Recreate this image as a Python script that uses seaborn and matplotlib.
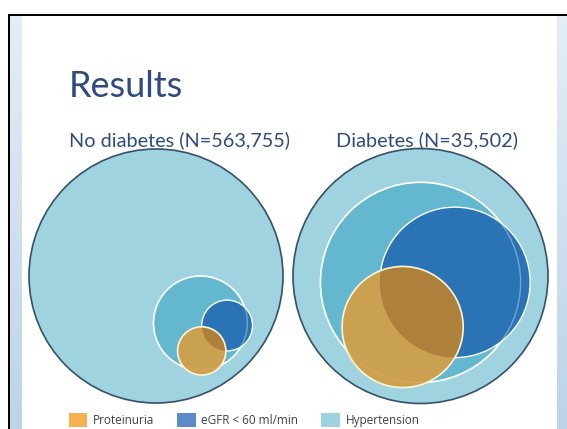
import numpy as np
import matplotlib
matplotlib.use("Agg")
import matplotlib.pyplot as plt
from matplotlib.patches import Circle, Rectangle, Patch
import seaborn as sns

sns.set_theme(style="white")
plt.rcParams['font.family'] = ['Lato', 'DejaVu Sans']

# --- data ---------------------------------------------------------------
title = "Results"
panel_titles = ["No diabetes (N=563,755)", "Diabetes (N=35,502)"]
set_labels = ["Proteinuria", "eGFR < 60 ml/min", "Hypertension"]

# circles relative to the whole cohort circle (centre 0,0, radius 1)
# order: proteinuria, eGFR, hypertension
no_dm_x = [0.36, 0.56, 0.35]
no_dm_y = [-0.59, -0.39, -0.37]
no_dm_r = [0.19, 0.20, 0.37]

dm_x = [-0.14, 0.27, 0.00]
dm_y = [-0.40, -0.05, -0.05]
dm_r = [0.475, 0.59, 0.785]

# --- styles -------------------------------------------------------------
W, H = 567, 429
cohort_col = "#9fd3e0"
edge_col = "#34506a"
fill_cols = ["#cfa04a", "#2a74b5", "#63b8cf"]
overlap_col = "#ad803c"
legend_cols = ["#f6b152", "#5b8cc8", "#9dd3e0"]
text_col = "#2f4a80"

fig = plt.figure(figsize=(W / 100, H / 100), dpi=100)
fig.patch.set_facecolor("white")

# slide frame with light gradient side strips
bg = fig.add_axes([0, 0, 1, 1], zorder=0)
bg.set_xlim(0, W)
bg.set_ylim(H, 0)
bg.axis("off")
strip = matplotlib.colors.LinearSegmentedColormap.from_list("s", ["#e3edf6", "#bcd3e8"])
bands = np.linspace(16, H, 41)
for i in range(40):
    c = strip(i / 39)
    h = bands[i + 1] - bands[i] + 0.5
    bg.add_patch(Rectangle((10, bands[i]), 12, h, fc=c, ec="none"))
    bg.add_patch(Rectangle((557, bands[i]), 10, h, fc=c, ec="none"))
bg.add_patch(Rectangle((8, 14), W, 2.2, color="black", lw=0))
bg.add_patch(Rectangle((8, 14), 2.2, H, color="black", lw=0))


def panel(cx, cy, r, xs, ys, rs):
    half = 1.05 * r
    ax = fig.add_axes([(cx - half) / W, (H - cy - half) / H, 2 * half / W, 2 * half / H], zorder=2)
    ax.set_xlim(-1.05, 1.05)
    ax.set_ylim(-1.05, 1.05)
    ax.set_aspect("equal")
    ax.axis("off")
    ax.add_patch(Circle((0, 0), 1, fc=cohort_col, ec=edge_col, lw=1.2))
    hyp = Circle((xs[2], ys[2]), rs[2], fc=fill_cols[2], ec="white", lw=1.2)
    ax.add_patch(hyp)
    egfr = Circle((xs[1], ys[1]), rs[1], fc=fill_cols[1], ec="white", lw=1.0)
    ax.add_patch(egfr)
    ax.add_patch(Circle((xs[2], ys[2]), rs[2], fc="none", ec="white", lw=1.0, alpha=0.35))
    ax.add_patch(Circle((xs[0], ys[0]), rs[0], fc=fill_cols[0], ec="none", alpha=0.95))
    ov = Circle((xs[0], ys[0]), rs[0], fc=overlap_col, ec="none")
    ax.add_patch(ov)
    ov.set_clip_path(egfr)
    ax.add_patch(Circle((xs[0], ys[0]), rs[0], fc="none", ec="#fff3d6", lw=1.2))
    return ax


panel(156, 276, 127, no_dm_x, no_dm_y, no_dm_r)
panel(420.5, 276, 127.5, dm_x, dm_y, dm_r)

fig.text(69 / W, 1 - 97 / H, title, fontsize=26, color=text_col, va="baseline", zorder=5)
fig.text(69 / W, 1 - 146 / H, panel_titles[0], fontsize=14.3, color=text_col, va="baseline", zorder=5)
fig.text(336 / W, 1 - 146 / H, panel_titles[1], fontsize=14.3, color=text_col, va="baseline", zorder=5)

handles = [Patch(fc=c, ec="none") for c in legend_cols]
fig.legend(handles, set_labels, loc="upper left", bbox_to_anchor=(58 / W, 1 - 402 / H),
           ncol=3, frameon=False, labelcolor="#404040",
           handlelength=1.55, handleheight=1.55, handletextpad=0.5, columnspacing=1.95,
           prop={"family": ["Open Sans", "DejaVu Sans"], "size": 8.5})

fig.savefig("out.png", dpi=100)
